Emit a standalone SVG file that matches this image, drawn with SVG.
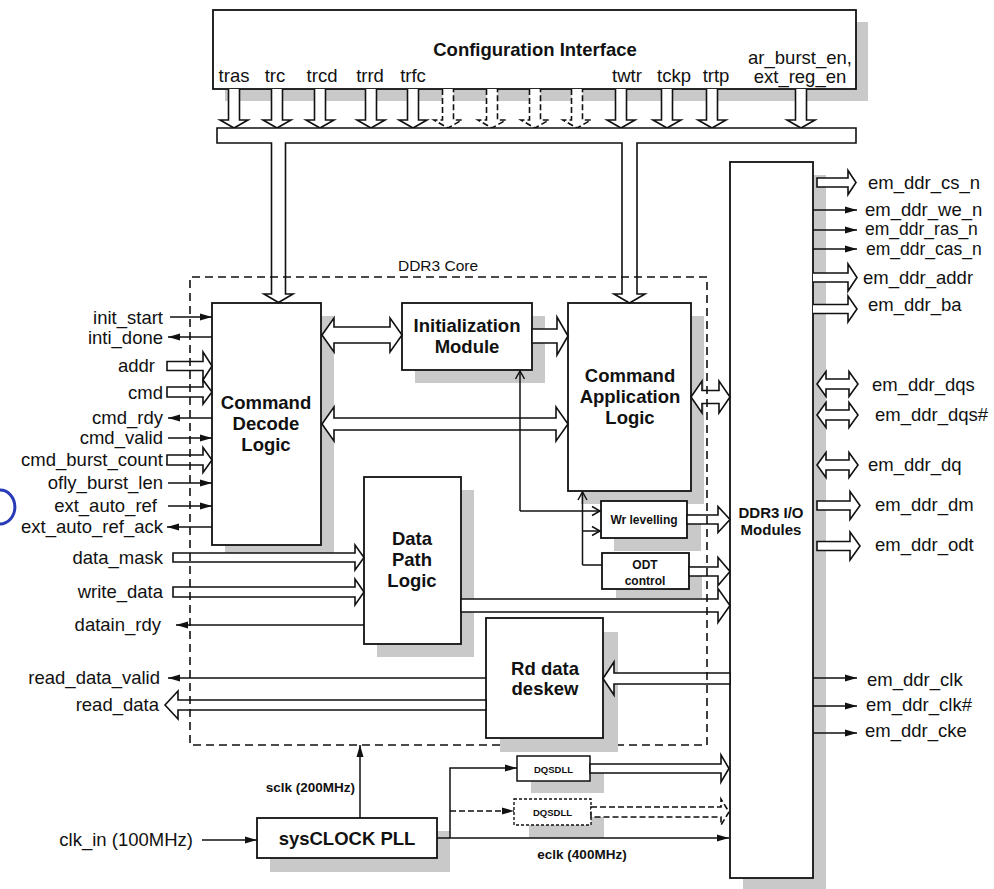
<svg xmlns="http://www.w3.org/2000/svg" width="994" height="889" viewBox="0 0 994 889">
<style>
text{font-family:"Liberation Sans",Arial,sans-serif;fill:#111}
.lbl{font-size:18.5px}
.b{font-weight:bold;font-size:18.5px;text-anchor:middle}
.sb{font-weight:bold;font-size:13.5px}
.box{fill:#fff;stroke:#111;stroke-width:1.8}
.sh{fill:#c9c9c9}
.ln{fill:none;stroke:#111;stroke-width:1.5}
.ha{fill:#fff;stroke:#111;stroke-width:1.6;stroke-linejoin:miter}
.dash{stroke-dasharray:6,3}
.end{text-anchor:end}
.mid{text-anchor:middle}
.sm{font-size:17.5px}
</style>
<defs>
<marker id="fa" markerUnits="userSpaceOnUse" markerWidth="12" markerHeight="8" viewBox="0 0 12 8" refX="12" refY="4" orient="auto">
<path d="M0,0.5 L12,4 L0,7.5 Z" fill="#111"/>
</marker>
<marker id="ch" markerUnits="userSpaceOnUse" markerWidth="12" markerHeight="12" viewBox="0 0 12 12" refX="10" refY="6" orient="auto">
<path d="M2,1.5 L10,6 L2,10.5" fill="none" stroke="#111" stroke-width="1.5"/>
</marker>
</defs>

<!-- shadows -->
<g id="shadows" class="sh">
<rect x="225" y="22" width="643" height="79"/>
<rect x="225" y="316" width="109" height="242"/>
<rect x="415" y="316" width="130" height="67"/>
<rect x="581" y="316" width="123" height="188"/>
<rect x="377" y="490" width="97" height="167"/>
<rect x="614" y="514" width="87" height="37"/>
<rect x="616" y="566" width="86" height="32"/>
<rect x="500" y="632" width="118" height="120"/>
<rect x="531" y="769" width="73" height="24"/>
<rect x="529" y="812" width="75" height="26"/>
<rect x="270" y="831" width="180" height="41"/>
<rect x="743" y="175" width="83" height="714"/>
</g>

<!-- nodes -->
<g id="config">
<rect class="box" x="213" y="10" width="643" height="79"/>
<text class="b" x="535" y="56">Configuration Interface</text>
<text class="lbl mid" x="234" y="82">tras</text>
<text class="lbl mid" x="275" y="82">trc</text>
<text class="lbl mid" x="322" y="82">trcd</text>
<text class="lbl mid" x="370" y="82">trrd</text>
<text class="lbl mid" x="413" y="82">trfc</text>
<text class="lbl mid" x="627" y="82">twtr</text>
<text class="lbl mid" x="674" y="82">tckp</text>
<text class="lbl mid" x="716" y="82">trtp</text>
<text class="lbl mid" x="800" y="63.5">ar_burst_en,</text>
<text class="lbl mid" x="800" y="83">ext_reg_en</text>
</g>
<g id="decode">
<rect class="box" x="212" y="303" width="109" height="242"/>
<text class="b" x="266" y="408.5">Command</text>
<text class="b" x="266" y="429.5">Decode</text>
<text class="b" x="266" y="450.5">Logic</text>
</g>
<g id="init">
<rect class="box" x="402" y="303" width="130" height="67"/>
<text class="b" x="467" y="331.5">Initialization</text>
<text class="b" x="467" y="353">Module</text>
</g>
<g id="cmdapp">
<rect class="box" x="568" y="303" width="123" height="188"/>
<text class="b" x="630" y="381.5">Command</text>
<text class="b" x="630" y="402.5">Application</text>
<text class="b" x="630" y="423.5">Logic</text>
</g>
<g id="wrlev">
<rect class="box" x="601" y="501" width="86" height="37"/>
<text class="mid" x="644" y="523.5" style="font-weight:bold;font-size:12px">Wr levelling</text>
</g>
<g id="odt">
<rect class="box" x="602" y="553" width="87" height="36"/>
<text class="mid" x="645" y="568.5" style="font-weight:bold;font-size:12px">ODT</text>
<text class="mid" x="645" y="584.5" style="font-weight:bold;font-size:12px">control</text>
</g>
<g id="datapath">
<rect class="box" x="364" y="477" width="97" height="167"/>
<text class="b" x="412" y="545">Data</text>
<text class="b" x="412" y="566">Path</text>
<text class="b" x="412" y="587">Logic</text>
</g>
<g id="rddeskew">
<rect class="box" x="486" y="618" width="117" height="120"/>
<text class="b" x="545" y="674.5">Rd data</text>
<text class="b" x="545" y="694.5">deskew</text>
</g>
<g id="ddrio">
<rect class="box" x="730" y="162" width="83" height="716"/>
<text class="mid" x="771" y="517.5" style="font-weight:bold;font-size:15px">DDR3 I/O</text>
<text class="mid" x="771" y="534.5" style="font-weight:bold;font-size:15px">Modules</text>
</g>
<g id="dqsdll1">
<rect class="box" x="517" y="756" width="73" height="25" style="stroke-width:1.5"/>
<text class="mid" x="553.5" y="772.5" style="font-weight:bold;font-size:9.5px">DQSDLL</text>
</g>
<g id="dqsdll2">
<rect class="box" x="514" y="799" width="77" height="26" style="stroke-width:1.4;stroke-dasharray:3,2"/>
<text class="mid" x="552.5" y="815.5" style="font-weight:bold;font-size:9.5px">DQSDLL</text>
</g>
<g id="pll">
<rect class="box" x="257" y="818" width="180" height="40"/>
<text class="b" x="347" y="844.5">sysCLOCK PLL</text>
</g>

<!-- connectors -->
<g id="connectors">
<path class="ha" d="M228.5,89 V120 H220 L234,128 L248,120 H239.5 V89"/>
<path class="ha" d="M271.5,89 V120 H263 L277,128 L291,120 H282.5 V89"/>
<path class="ha" d="M314.5,89 V120 H306 L320,128 L334,120 H325.5 V89"/>
<path class="ha" d="M365.5,89 V120 H357 L371,128 L385,120 H376.5 V89"/>
<path class="ha" d="M407.5,89 V120 H399 L413,128 L427,120 H418.5 V89"/>
<path class="ha dash" d="M442.5,89 V120 H434 L448,128 L462,120 H453.5 V89"/>
<path class="ha dash" d="M486.5,89 V120 H478 L492,128 L506,120 H497.5 V89"/>
<path class="ha dash" d="M529.5,89 V120 H521 L535,128 L549,120 H540.5 V89"/>
<path class="ha dash" d="M571.5,89 V120 H563 L577,128 L591,120 H582.5 V89"/>
<path class="ha" d="M615.5,89 V120 H607 L621,128 L635,120 H626.5 V89"/>
<path class="ha" d="M661.5,89 V120 H653 L667,128 L681,120 H672.5 V89"/>
<path class="ha" d="M706.5,89 V120 H698 L712,128 L726,120 H717.5 V89"/>
<path class="ha" d="M795.5,89 V120 H787 L801,128 L815,120 H806.5 V89"/>
<path class="ha" d="M217,128 H856 V143 H637 V294 H645 L629.5,303 L614,294 H622 V143 H285.5 V294 H293 L278.5,302.5 L264,294 H271.5 V143 H217 Z"/>

<path class="ln" marker-end="url(#fa)" d="M170,317 H212"/>
<path class="ln" marker-end="url(#fa)" d="M212,337 H168"/>
<path class="ha" d="M167,361.5 H203 V352 L212,366 L203,380 V370.5 H167 Z"/>
<path class="ha" d="M167,387 H203 V380 L212,392 L203,404 V397 H167 Z"/>
<path class="ln" marker-end="url(#fa)" d="M212,418 H168"/>
<path class="ln" marker-end="url(#fa)" d="M168,438 H212"/>
<path class="ha" d="M167,455 H203 V447.5 L212,460 L203,472.5 V465 H167 Z"/>
<path class="ln" marker-end="url(#fa)" d="M168,483 H212"/>
<path class="ln" marker-end="url(#fa)" d="M168,506 H212"/>
<path class="ln" marker-end="url(#fa)" d="M212,527 H167"/>
<path class="ha" d="M173,553 H355 V545 L364,557.5 L355,570 V562 H173 Z"/>
<path class="ha" d="M173,587 H355 V579 L364,592 L355,605 V597 H173 Z"/>
<path class="ln" marker-end="url(#fa)" d="M364,625 H176"/>
<path class="ln" marker-end="url(#fa)" d="M486,678 H168"/>
<path class="ha" d="M486,700 H178 V691 L165,705 L178,719 V710 H486 Z"/>

<path class="ha" d="M322,335 L334,318 V327 H390 V318 L402,335 L390,352 V343 H334 V352 Z"/>
<path class="ha" d="M322,424 L334,407 V418 H556 V407 L568,424 L556,441 V430 H334 V441 Z"/>
<path class="ha" d="M532,329 H557 V317 L568,336 L557,355 V343 H532 Z"/>
<path class="ha" d="M691,397 L702,381 V390.5 H719 V381 L730,397 L719,413 V403.5 H702 V413 Z"/>
<path class="ha" d="M687,515 H718 V506.5 L730,519.5 L718,532.5 V524 H687 Z"/>
<path class="ha" d="M689,567 H718 V557.5 L730,571.5 L718,585.5 V576 H689 Z"/>
<path class="ha" d="M461,599 H718 V588.5 L730,605.5 L718,622.5 V612 H461 Z"/>
<path class="ha" d="M730,673 H614 V662 L603,678.5 L614,695 V684 H730 Z"/>
<path class="ln" marker-end="url(#ch)" d="M520,511 V371"/>
<path class="ln" marker-end="url(#ch)" d="M520,511 H600"/>
<path class="ln" marker-end="url(#ch)" d="M582.5,565 V492"/>
<path class="ln" d="M582.5,565 H602"/>
<path class="ln" marker-end="url(#ch)" d="M582.5,531 H600"/>

<path class="ln" marker-end="url(#fa)" d="M202,840 H257"/>
<path class="ln" marker-end="url(#fa)" d="M360,818 V745"/>
<path class="ln" marker-end="url(#fa)" d="M437,838 H729"/>
<path class="ln" marker-end="url(#fa)" d="M450,838 V768 H517"/>
<path class="ln dash" marker-end="url(#fa)" d="M450,811 H514"/>
<path class="ha" d="M590,764 H721 V755 L729,768.5 L721,782 V773 H590 Z"/>
<path class="ha dash" d="M591,807 H721 V799 L729,812 L721,825 V817 H591 Z"/>

<path class="ha" d="M817,178 H848 V170.5 L856,182.5 L848,194.5 V187 H817 Z"/>
<path class="ln" marker-end="url(#fa)" d="M813,210 H857"/>
<path class="ln" marker-end="url(#fa)" d="M813,230 H857"/>
<path class="ln" marker-end="url(#fa)" d="M813,249 H857"/>
<path class="ha" d="M813,273 H848 V264 L857,277.5 L848,291 V282 H813"/>
<path class="ha" d="M813,304.5 H848 V296 L857,309 L848,322 V313.5 H813"/>
<path class="ha" d="M817,384 L826,371.5 V379 H849 V371.5 L858,384 L849,396.5 V389 H826 V396.5 Z"/>
<path class="ha" d="M817,415 L826,402.5 V410 H849 V402.5 L858,415 L849,427.5 V420 H826 V427.5 Z"/>
<path class="ha" d="M817,465 L826,452.5 V460 H849 V452.5 L858,465 L849,477.5 V470 H826 V477.5 Z"/>
<path class="ha" d="M817,501 H850 V491.5 L860,505.5 L850,519.5 V510 H817 Z"/>
<path class="ha" d="M817,541.5 H850 V532 L860,546 L850,560 V550.5 H817 Z"/>
<path class="ln" marker-end="url(#fa)" d="M813,678 H857"/>
<path class="ln" marker-end="url(#fa)" d="M813,706 H857"/>
<path class="ln" marker-end="url(#fa)" d="M813,733 H857"/>
</g>

<g id="ddr3core">
<path d="M500,745 H190 V277 H707 V745 H618" fill="none" stroke="#111" stroke-width="1.6" stroke-dasharray="8,5"/>
<text class="mid" x="438" y="270.5" style="font-size:15.5px">DDR3 Core</text>
</g>

<g id="labels" class="lbl">
<text class="end" x="163" y="323.5">init_start</text>
<text class="end" x="163" y="343.5">inti_done</text>
<text class="end" x="155" y="372">addr</text>
<text class="end" x="163" y="399">cmd</text>
<text class="end" x="163" y="424">cmd_rdy</text>
<text class="end" x="163" y="444">cmd_valid</text>
<text class="end" x="163" y="466">cmd_burst_count</text>
<text class="end" x="163" y="489">ofly_burst_len</text>
<text class="end" x="157" y="512">ext_auto_ref</text>
<text class="end" x="163" y="533">ext_auto_ref_ack</text>
<text class="end" x="163" y="563.5">data_mask</text>
<text class="end" x="163" y="598">write_data</text>
<text class="end" x="161" y="631">datain_rdy</text>
<text class="end" x="160" y="684">read_data_valid</text>
<text class="end" x="159" y="711">read_data</text>
<text class="end" x="193" y="846">clk_in (100MHz)</text>
<text x="868" y="189">em_ddr_cs_n</text>
<text x="865" y="215.5">em_ddr_we_n</text>
<text class="sm" x="865" y="235">em_ddr_ras_n</text>
<text class="sm" x="866" y="254.5">em_ddr_cas_n</text>
<text x="863" y="283.5">em_ddr_addr</text>
<text x="868" y="311">em_ddr_ba</text>
<text x="872" y="390.5">em_ddr_dqs</text>
<text x="875" y="421">em_ddr_dqs#</text>
<text x="868" y="471">em_ddr_dq</text>
<text x="875" y="511">em_ddr_dm</text>
<text x="875" y="551">em_ddr_odt</text>
<text x="867" y="686">em_ddr_clk</text>
<text x="866" y="711">em_ddr_clk#</text>
<text x="865" y="737">em_ddr_cke</text>
<text class="sb end" x="355" y="792">sclk (200MHz)</text>
<text class="sb mid" x="582" y="859">eclk (400MHz)</text>
</g>
<path d="M0,490 A14,16 0 0 1 0,524" fill="none" stroke="#2a3bb8" stroke-width="3"/>
</svg>
